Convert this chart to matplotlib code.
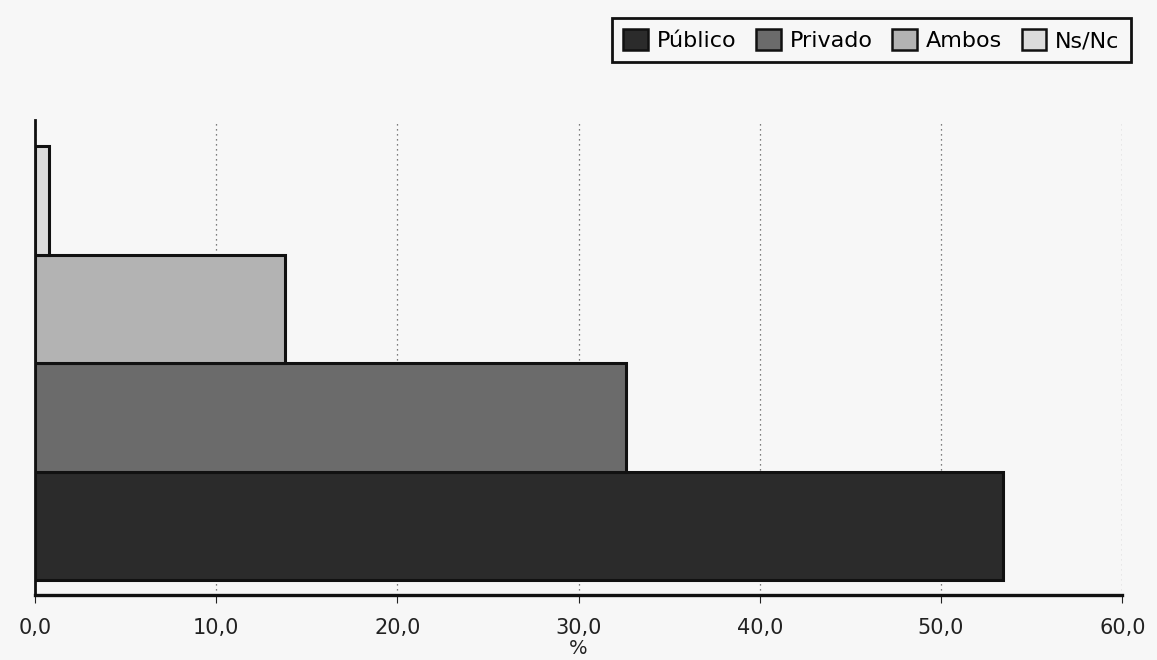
import matplotlib
matplotlib.use("Agg")
import matplotlib.pyplot as plt
import matplotlib.ticker as mticker
from matplotlib.patches import Patch

# Respuestas, de abajo arriba
categories = ["Público", "Privado", "Ambos", "Ns/Nc"]
values = [53.4, 32.6, 13.8, 0.8]
colors = ["#2b2b2b", "#6b6b6b", "#b3b3b3", "#dcdcdc"]
x_ticks = [0, 10, 20, 30, 40, 50, 60]

bg = "#f7f7f7"

fig = plt.figure(figsize=(11.57, 6.6), dpi=100)
fig.patch.set_facecolor(bg)
ax = fig.add_axes([0.030, 0.098, 0.940, 0.72])
ax.set_facecolor(bg)

ax.barh(range(len(values)), values, height=1.0, color=colors,
        edgecolor="#111111", linewidth=2.2, zorder=3)

ax.set_xlim(0, 60)
ax.set_ylim(-0.64, 3.74)
ax.set_yticks([])
ax.set_xticks(x_ticks)
ax.xaxis.set_major_formatter(mticker.FuncFormatter(lambda v, _p: f"{v:.1f}".replace(".", ",")))
ax.tick_params(axis="x", length=6, width=0.8, colors="#222222", labelsize=15, pad=10)
ax.grid(True, axis="x", color="#555555", linestyle=(0, (1, 3)), linewidth=0.9, zorder=0)

for side in ("top", "right"):
    ax.spines[side].set_visible(False)
ax.spines["left"].set_linewidth(2.0)
ax.spines["bottom"].set_linewidth(2.4)
ax.spines["left"].set_color("#111111")
ax.spines["bottom"].set_color("#111111")

# "%" sits just under the 30,0 label
fig.text(0.5, 0.003, "%", ha="center", va="bottom", fontsize=14, color="#222222")

handles = [Patch(facecolor=c, edgecolor="#111111", linewidth=1.8) for c in colors]
leg = fig.legend(handles, categories, loc="upper right", bbox_to_anchor=(0.987, 0.99),
                 ncol=4, fontsize=16, frameon=True, fancybox=False, framealpha=1,
                 handlelength=1.1, handleheight=1.1, handletextpad=0.4,
                 columnspacing=0.9, borderpad=0.5)
leg.get_frame().set_edgecolor("#111111")
leg.get_frame().set_linewidth(2.0)
leg.get_frame().set_facecolor(bg)

fig.savefig("out.png", dpi=100, facecolor=fig.get_facecolor())
